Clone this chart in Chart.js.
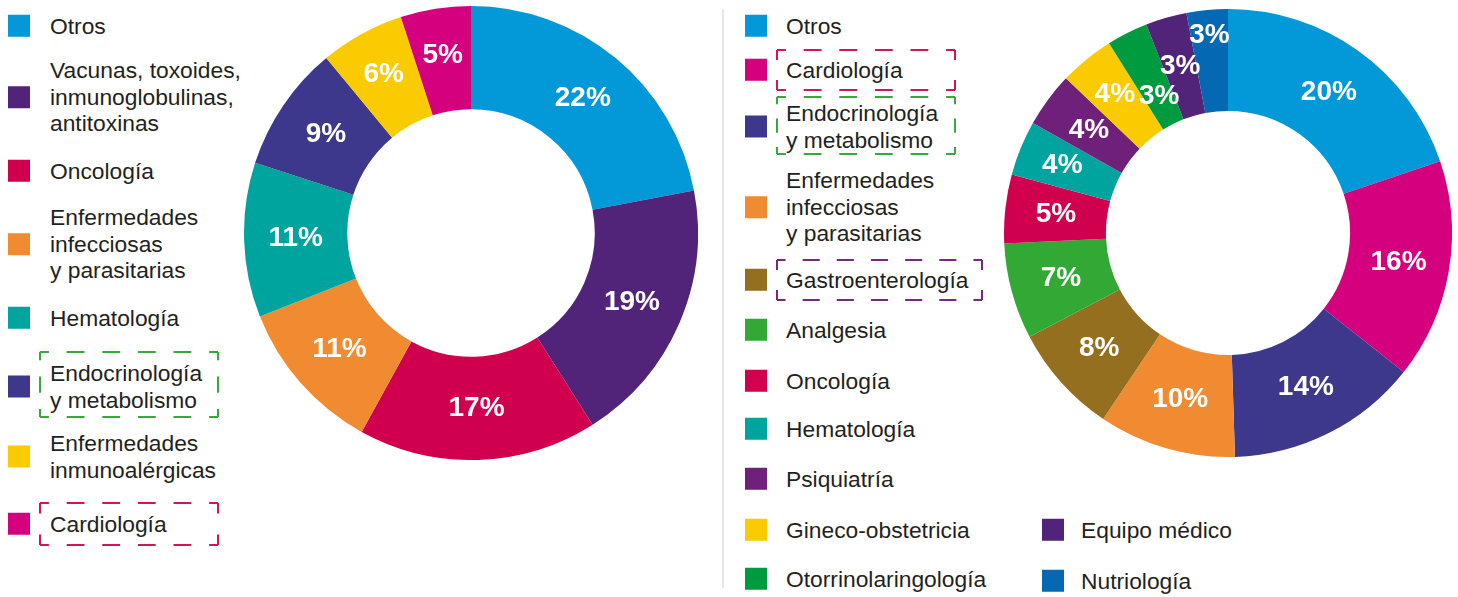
<!DOCTYPE html>
<html lang="es">
<head>
<meta charset="UTF-8">
<title>Áreas terapéuticas</title>
<script src="https://cdn.jsdelivr.net/npm/chart.js"></script>
<style>
    body { margin: 0; background: #fff; font-family: "Liberation Sans", Arial, sans-serif; }
    .lienzo { position: relative; width: 1458px; height: 597px; overflow: hidden; }
    .dona { position: absolute; }
    .item { position: absolute; display: flex; align-items: center; transform: translateY(-50%); }
    .cuadro { width: 22px; height: 22px; flex: none; }
    .texto { font-size: 22.8px; line-height: 26.5px; color: #231f20; white-space: nowrap; }
    .divisor { position: absolute; left: 722px; top: 9px; width: 1.5px; height: 579px; background: #e6e6e6; }
    svg.caja { position: absolute; overflow: visible; }
</style>
</head>
<body>
<div class="lienzo" id="lienzo">
    <div class="dona" style="left:244px; top:6px; width:454px; height:454px;"><canvas id="grafico_izq"></canvas></div>
    <div class="divisor"></div>
    <div class="dona" style="left:1004px; top:9px; width:448px; height:448px;"><canvas id="grafico_der"></canvas></div>
</div>

<script>
    // datos (porcentajes)
    const categoriasIzq = ['Otros', 'Vacunas, toxoides,\ninmunoglobulinas,\nantitoxinas', 'Oncología',
        'Enfermedades\ninfecciosas\ny parasitarias', 'Hematología', 'Endocrinología\ny metabolismo',
        'Enfermedades\ninmunoalérgicas', 'Cardiología'];
    const valoresIzq = [22, 19, 17, 11, 11, 9, 6, 5];

    const categoriasDer = ['Otros', 'Cardiología', 'Endocrinología\ny metabolismo',
        'Enfermedades\ninfecciosas\ny parasitarias', 'Gastroenterología', 'Analgesia', 'Oncología',
        'Hematología', 'Psiquiatría', 'Gineco-obstetricia', 'Otorrinolaringología', 'Equipo médico', 'Nutriología'];
    const valoresDer = [20, 16, 14, 10, 8, 7, 5, 4, 4, 4, 3, 3, 3];

    const colores = {
        'Otros': '#0398d8',
        'Vacunas, toxoides,\ninmunoglobulinas,\nantitoxinas': '#51247a',
        'Equipo médico': '#51247a',
        'Oncología': '#d0004f',
        'Enfermedades\ninfecciosas\ny parasitarias': '#f08b31',
        'Hematología': '#00a49f',
        'Endocrinología\ny metabolismo': '#3d388b',
        'Enfermedades\ninmunoalérgicas': '#facb00',
        'Gineco-obstetricia': '#facb00',
        'Cardiología': '#d4007d',
        'Gastroenterología': '#946f20',
        'Analgesia': '#32a935',
        'Psiquiatría': '#6f207a',
        'Otorrinolaringología': '#009b3e',
        'Nutriología': '#0568b3'
    };

    // maquetación de las leyendas (centro vertical de cada fila)
    const leyendaIzq = { x: 8, texto: 50, y: [26, 97, 171, 244, 318, 386, 456, 524] };
    const leyendaDer = [
        { x: 745, texto: 786, y: [26, 70, 126, 207, 280, 330, 381, 429, 479, 530, 579] },
        { x: 1042, texto: 1081, y: [530, 581] }
    ];
    const cajas = [
        { x: 40, y: 352, w: 178, h: 65, color: '#35a93a' },
        { x: 40, y: 503, w: 178, h: 42, color: '#d21557' },
        { x: 777, y: 50, w: 178, h: 40, color: '#d21557' },
        { x: 777, y: 97, w: 178, h: 57, color: '#35a93a' },
        { x: 777, y: 260, w: 205, h: 40, color: '#74287e' }
    ];

    const lienzo = document.getElementById('lienzo');

    function itemLeyenda(nombre, x, xTexto, y) {
        const item = document.createElement('div');
        item.className = 'item';
        item.style.left = x + 'px';
        item.style.top = y + 'px';
        const cuadro = document.createElement('div');
        cuadro.className = 'cuadro';
        cuadro.style.background = colores[nombre];
        const texto = document.createElement('div');
        texto.className = 'texto';
        texto.style.marginLeft = (xTexto - x - 22) + 'px';
        texto.innerHTML = nombre.split('\n').join('<br>');
        item.appendChild(cuadro);
        item.appendChild(texto);
        lienzo.appendChild(item);
    }

    categoriasIzq.forEach(function (c, i) {
        itemLeyenda(c, leyendaIzq.x, leyendaIzq.texto, leyendaIzq.y[i]);
    });
    let k = 0;
    leyendaDer.forEach(function (col) {
        col.y.forEach(function (y) {
            itemLeyenda(categoriasDer[k], col.x, col.texto, y);
            k++;
        });
    });

    // cajas punteadas con guiones alineados a las esquinas
    const NS = 'http://www.w3.org/2000/svg';
    cajas.forEach(function (c) {
        const svg = document.createElementNS(NS, 'svg');
        svg.setAttribute('class', 'caja');
        svg.setAttribute('width', c.w);
        svg.setAttribute('height', c.h);
        svg.style.left = c.x + 'px';
        svg.style.top = c.y + 'px';
        const lados = [[0, 0, c.w, 0], [c.w, 0, c.w, c.h], [c.w, c.h, 0, c.h], [0, c.h, 0, 0]];
        lados.forEach(function (l) {
            const largo = Math.hypot(l[2] - l[0], l[3] - l[1]);
            const n = Math.max(1, Math.round(largo / 33));
            const periodo = largo / n;
            const guion = periodo * 0.5;
            const linea = document.createElementNS(NS, 'line');
            linea.setAttribute('x1', l[0]); linea.setAttribute('y1', l[1]);
            linea.setAttribute('x2', l[2]); linea.setAttribute('y2', l[3]);
            linea.setAttribute('stroke', c.color);
            linea.setAttribute('stroke-width', 2);
            linea.setAttribute('stroke-dasharray', guion + ' ' + (periodo - guion));
            linea.setAttribute('stroke-dashoffset', guion / 2);
            svg.appendChild(linea);
        });
        lienzo.appendChild(svg);
    });

    // etiquetas de porcentaje dentro de cada porción
    const etiquetas = {
        id: 'etiquetas',
        afterDatasetsDraw(chart, args, opts) {
            const ctx = chart.ctx;
            const meta = chart.getDatasetMeta(0);
            const ajustes = opts.ajustes || {};
            ctx.save();
            ctx.font = 'bold 28px "Liberation Sans", Arial, sans-serif';
            ctx.fillStyle = '#ffffff';
            ctx.textAlign = 'center';
            ctx.textBaseline = 'middle';
            meta.data.forEach(function (arco, i) {
                const p = arco.getProps(['x', 'y', 'startAngle', 'endAngle', 'innerRadius', 'outerRadius']);
                const ang = (p.startAngle + p.endAngle) / 2;
                const r = (p.innerRadius + p.outerRadius) / 2 + (ajustes[i] || 0);
                const valor = chart.data.datasets[0].data[i];
                ctx.fillText(valor + '%', p.x + Math.cos(ang) * r, p.y + Math.sin(ang) * r);
            });
            ctx.restore();
        }
    };

    function dona(id, categorias, valores, ajustes) {
        const ctx = document.getElementById(id).getContext('2d');
        return new Chart(ctx, {
            type: 'doughnut',
            data: {
                labels: categorias,
                datasets: [{
                    data: valores,
                    backgroundColor: categorias.map(function (c) { return colores[c]; }),
                    borderWidth: 0
                }]
            },
            options: {
                responsive: true,
                maintainAspectRatio: false,
                animation: false,
                cutout: '54.5%',
                layout: { padding: 0 },
                plugins: {
                    legend: { display: false },
                    tooltip: { enabled: false },
                    etiquetas: { ajustes: ajustes }
                }
            },
            plugins: [etiquetas]
        });
    }

    dona('grafico_izq', categoriasIzq, valoresIzq, { 6: 6, 7: 5 });
    dona('grafico_der', categoriasDer, valoresDer, { 7: 6, 9: 6, 10: -20, 12: 26 });
</script>
</body>
</html>
